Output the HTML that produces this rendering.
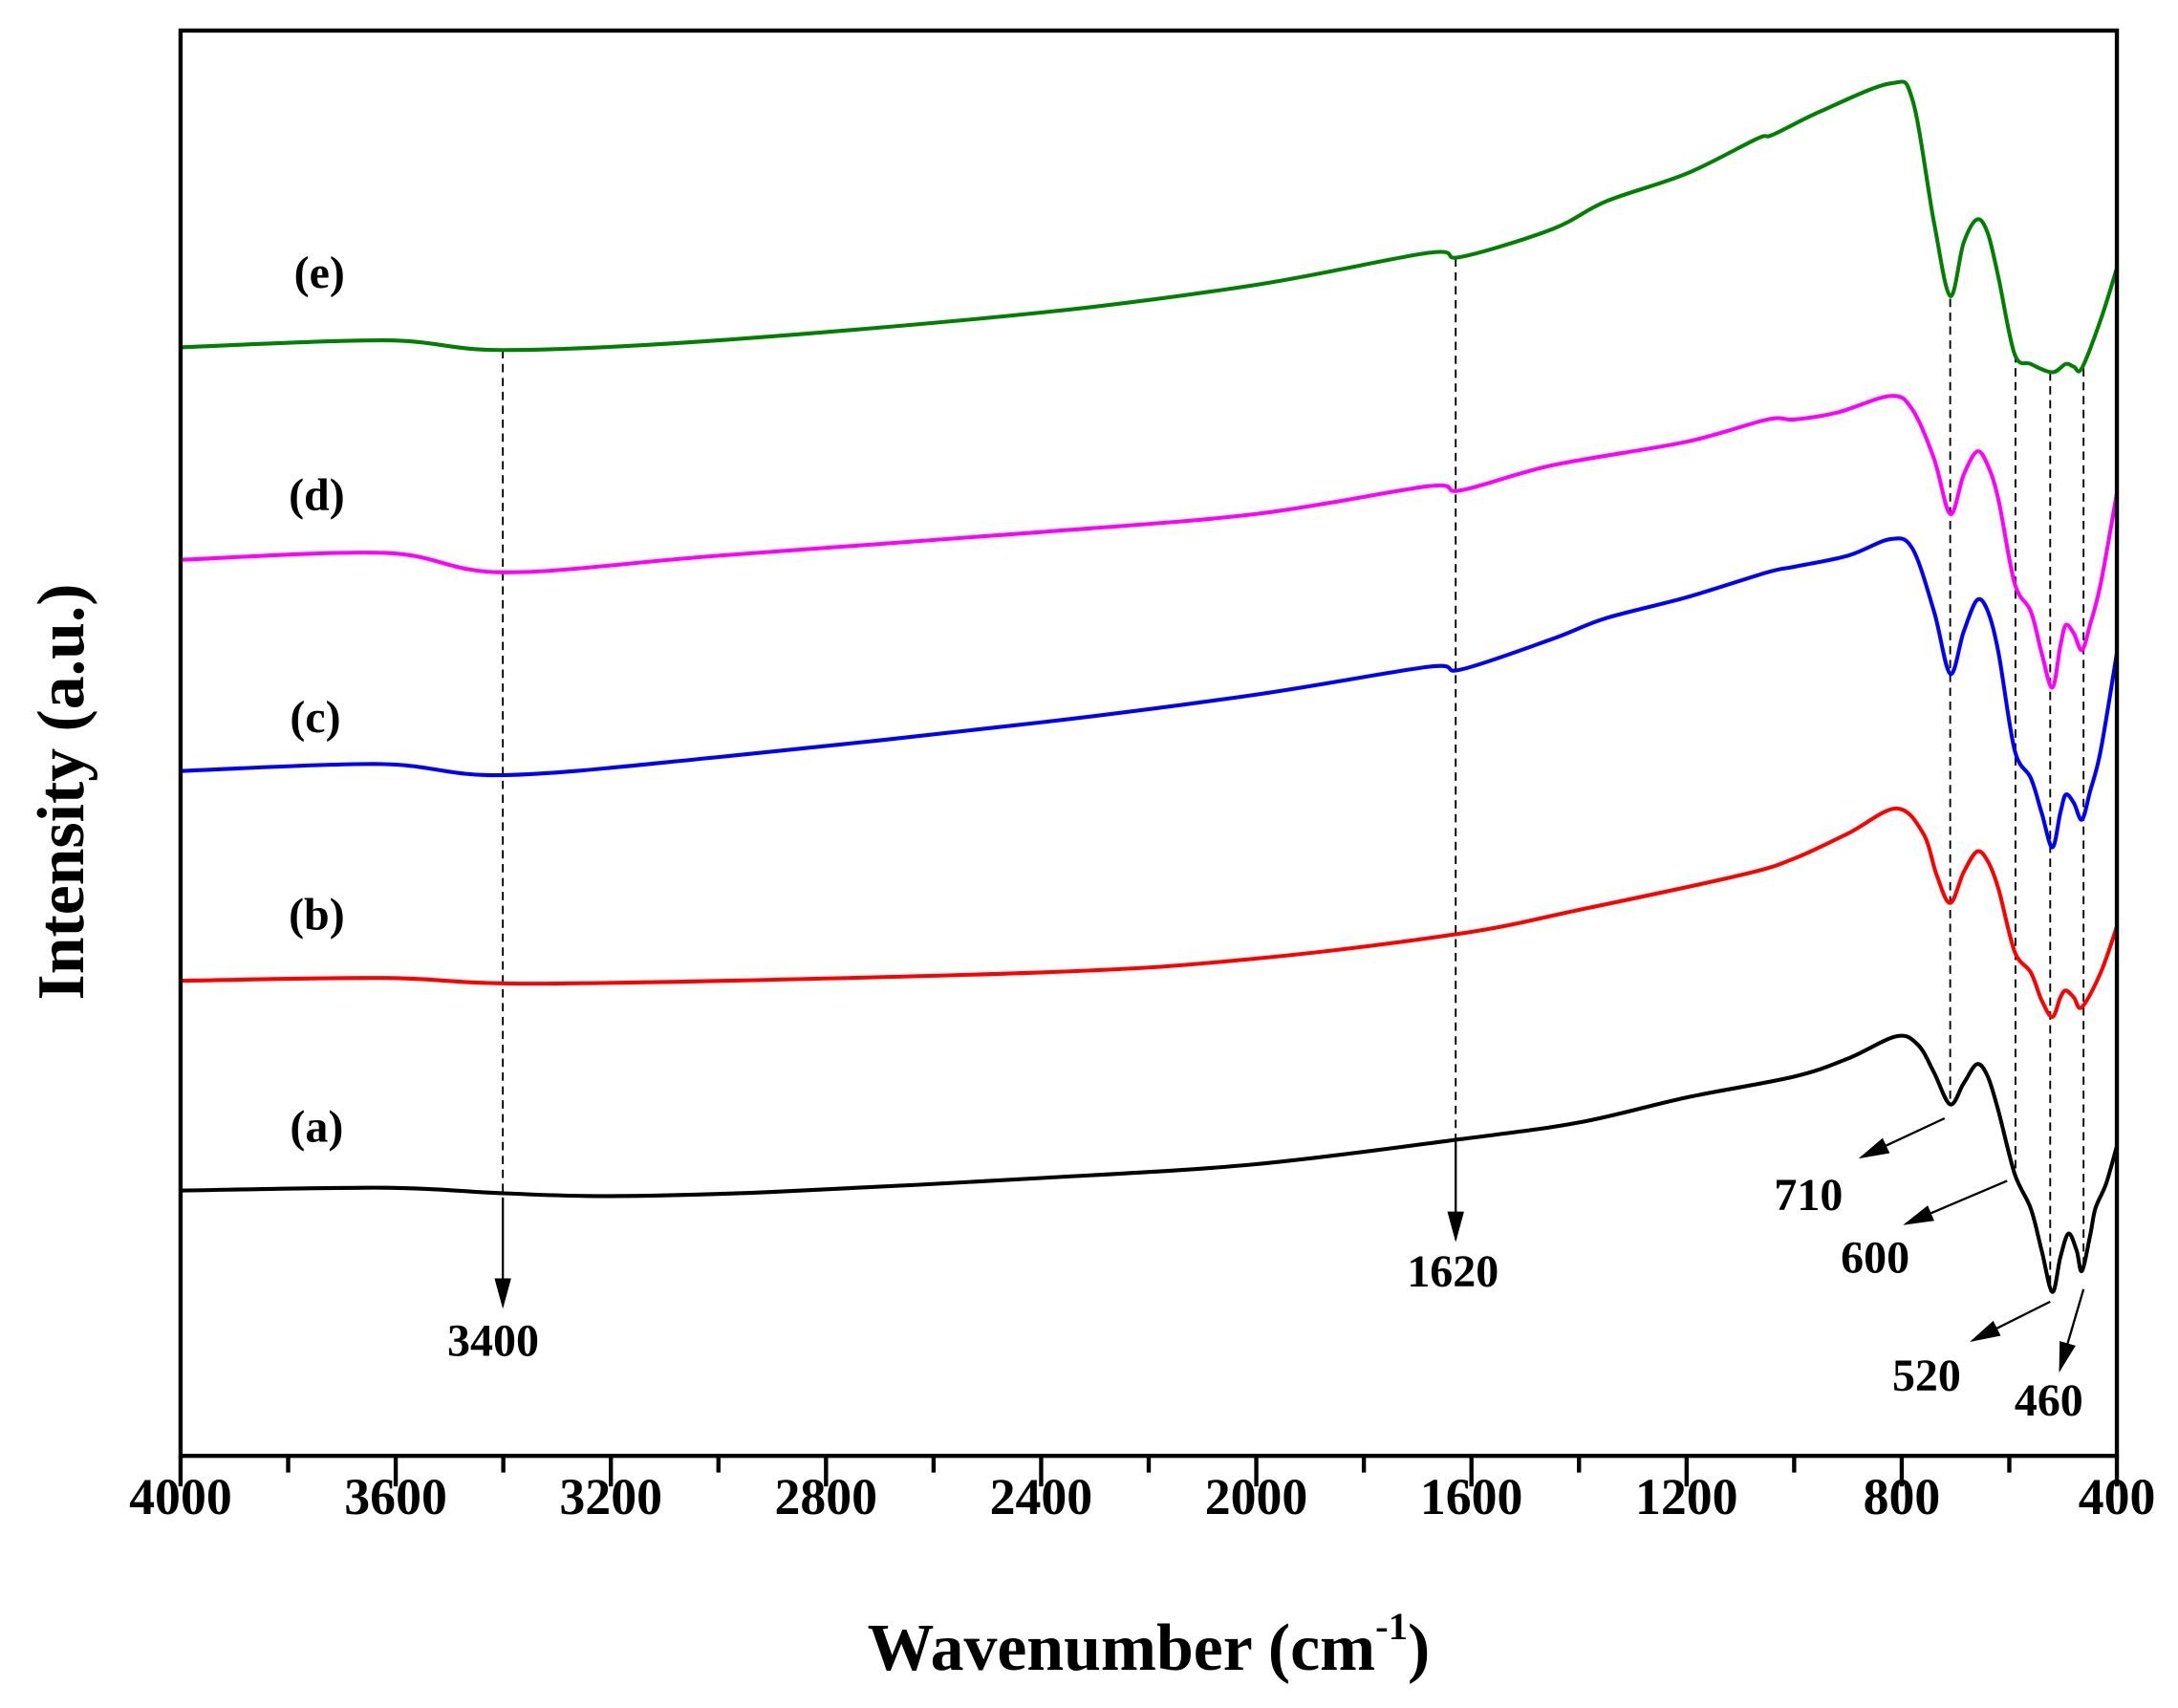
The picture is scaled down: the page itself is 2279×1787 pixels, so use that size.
<!DOCTYPE html>
<html><head><meta charset="utf-8"><style>
html,body{margin:0;padding:0;background:#fff;}
svg{display:block;}
text{font-family:"Liberation Serif",serif;font-weight:bold;fill:#000;}
</style></head><body>
<svg id="s" width="2279" height="1787" viewBox="0 0 1568 1229.5" xmlns="http://www.w3.org/2000/svg">
<defs><marker id="ah" viewBox="0 0 10 10" refX="9" refY="5" markerWidth="9" markerHeight="9" markerUnits="userSpaceOnUse" orient="auto"><path d="M0,0 L10,5 L0,10 L2,5 Z" fill="#000"/></marker>
<marker id="ah2" viewBox="0 0 10 10" refX="9" refY="5" markerWidth="22" markerHeight="12" markerUnits="userSpaceOnUse" orient="auto" preserveAspectRatio="none"><path d="M0,0 L10,5 L0,10 Z" fill="#000"/></marker></defs>
<rect x="0" y="0" width="1568" height="1230" fill="#fff"/>
<g id="dash" stroke="#000" stroke-width="1.3" stroke-dasharray="6,4" fill="none">
<line x1="362" y1="252" x2="362" y2="862"/>
<line x1="1048" y1="186" x2="1048" y2="822"/>
<line x1="1404" y1="215" x2="1404" y2="795"/>
<line x1="1451" y1="255" x2="1451" y2="845"/>
<line x1="1476" y1="268" x2="1476" y2="930"/>
<line x1="1500" y1="265" x2="1500" y2="915"/>
</g>
<g stroke="#000" stroke-width="1.6" fill="none" marker-end="url(#ah2)">
<line x1="362" y1="862" x2="362" y2="940"/>
<line x1="1048" y1="822" x2="1048" y2="892"/>
<line x1="1400" y1="805" x2="1340" y2="833"/>
<line x1="1445" y1="850" x2="1372" y2="881"/>
<line x1="1476" y1="937" x2="1420" y2="965"/>
<line x1="1500" y1="928" x2="1483" y2="986"/>
</g>
<g id="curves" fill="none" stroke-width="2.8" stroke-linejoin="round"></g>
<rect x="130" y="22" width="1394" height="1026" fill="none" stroke="#000" stroke-width="3"/>
<g id="ticks" stroke="#000" stroke-width="3"></g>
<g font-size="37" text-anchor="middle" id="tl"></g>
<g font-size="33" text-anchor="middle">
<text x="355" y="976">3400</text>
<text x="1046" y="926">1620</text>
<text x="1302" y="871">710</text>
<text x="1350" y="916">600</text>
<text x="1387" y="1001">520</text>
<text x="1475" y="1019">460</text>
</g>
<g font-size="33" text-anchor="middle">
<text x="230" y="207">(e)</text>
<text x="228" y="367">(d)</text>
<text x="227" y="527">(c)</text>
<text x="228" y="669">(b)</text>
<text x="228" y="822">(a)</text>
</g>
<text x="827" y="1202" font-size="48" text-anchor="middle">Wavenumber (cm<tspan font-size="28" dy="-22">-1</tspan><tspan dy="22">)</tspan></text>
<text transform="translate(60,570) rotate(-90)" font-size="48" text-anchor="middle">Intensity (a.u.)</text>
</svg>
<script>
var NS="http://www.w3.org/2000/svg";
function X(w){return 130+(4000-w)*1394/3600;}
var tk=document.getElementById('ticks'),tl=document.getElementById('tl');
for(var w=4000;w>=400;w-=200){
 var maj=(w%400===0);var l=document.createElementNS(NS,'line');
 l.setAttribute('x1',X(w));l.setAttribute('x2',X(w));l.setAttribute('y1',1048);l.setAttribute('y2',1048+(maj?22:12));tk.appendChild(l);
 if(maj){var t=document.createElementNS(NS,'text');t.setAttribute('x',X(w));t.setAttribute('y',1090);t.textContent=w;tl.appendChild(t);}
}
var S=[
['#000',[[4000,857],[3620,855],[3400,859],[3200,861],[2900,858],[2400,848],[2000,838],[1620,820],[1400,808],[1200,790],[1000,775],[900,762],[810,746],[770,752],[740,772],[710,795],[685,780],[660,766],[640,775],[620,800],[590,845],[560,870],[540,900],[520,930],[505,905],[490,888],[475,900],[465,915],[450,890],[440,870],[420,852],[400,825]]],
['#ff0000',[[4000,706],[3620,704],[3300,708],[2400,700],[2000,690],[1620,672],[1400,655],[1100,630],[1000,618],[900,600],[810,582],[760,600],[735,630],[710,650],[685,628],[660,613],[640,620],[620,640],[590,685],[560,700],[540,720],[520,732],[505,718],[495,713],[480,718],[465,725],[430,700],[400,667]]],
['#0000ff',[[4000,555],[3630,550],[3400,558],[3000,545],[2400,520],[2000,500],[1680,480],[1620,482],[1450,460],[1350,445],[1200,430],[1050,412],[1000,408],[900,400],[820,388],[780,395],[740,440],[710,485],[685,455],[660,432],[640,440],[620,470],[590,540],[560,560],[540,585],[520,610],[505,585],[495,572],[480,578],[465,590],[450,570],[430,540],[400,470]]],
['#ff00ff',[[4000,403],[3620,398],[3400,412],[3000,400],[2400,383],[2000,370],[1680,350],[1620,353],[1450,335],[1200,318],[1050,302],[1000,302],[920,297],[820,285],[780,295],[740,330],[710,370],[685,342],[660,325],[640,335],[620,360],[590,420],[560,440],[540,470],[520,495],[505,465],[495,450],[480,456],[465,468],[450,450],[430,420],[400,355]]],
['#008000',[[4000,250],[3620,245],[3400,252],[3000,245],[2400,225],[2000,205],[1680,182],[1620,185],[1450,165],[1350,145],[1200,125],[1070,100],[1040,97],[950,80],[820,60],[780,72],[740,160],[710,213],[685,175],[660,158],[640,168],[620,200],[590,255],[560,262],[520,268],[495,262],[480,264],[465,265],[430,230],[400,193]]]
];
var g=document.getElementById('curves');
S.forEach(function(s){
 var p=s[1].map(function(a){return [X(a[0]),a[1]];});
 var d='M'+p[0][0].toFixed(1)+','+p[0][1];
 for(var i=0;i<p.length-1;i++){
  var p0=p[i-1]||p[i],p1=p[i],p2=p[i+1],p3=p[i+2]||p2;
  var c1x=p1[0]+(p2[0]-p0[0])/6,c1y=p1[1]+(p2[1]-p0[1])/6,c2x=p2[0]-(p3[0]-p1[0])/6,c2y=p2[1]-(p3[1]-p1[1])/6;
  d+=' C'+c1x.toFixed(1)+','+c1y.toFixed(1)+' '+c2x.toFixed(1)+','+c2y.toFixed(1)+' '+p2[0].toFixed(1)+','+p2[1];
 }
 var e=document.createElementNS(NS,'path');e.setAttribute('d',d);e.setAttribute('stroke',s[0]);g.appendChild(e);
});
</script>
</body></html>
